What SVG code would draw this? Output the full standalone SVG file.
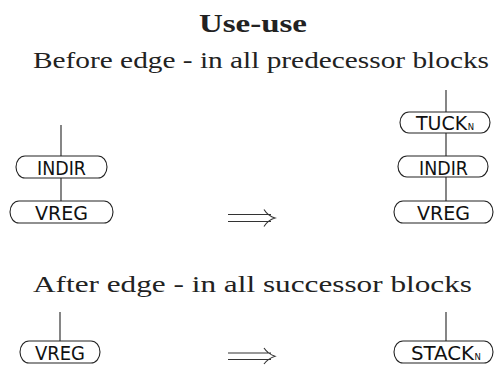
<svg xmlns="http://www.w3.org/2000/svg" width="494" height="365" viewBox="0 0 494 365">
<style>
.node{fill:#fff;stroke:#222;stroke-width:1.1}
.lbl{font-family:"DejaVu Sans",sans-serif;font-size:19px;fill:#111}
.sub{font-size:8.5px}
.edge{stroke:#222;stroke-width:1.1;fill:none}
.ttl{font-family:"Liberation Serif",serif;fill:#222;text-anchor:middle}
.imp{stroke:#333;stroke-width:1.1;fill:none}
</style>
<rect width="494" height="365" fill="#fff"/>
<text class="ttl" x="253" y="32" font-size="26" font-weight="bold" textLength="108" lengthAdjust="spacingAndGlyphs">Use-use</text>
<text class="ttl" x="261" y="68" font-size="23" textLength="456" lengthAdjust="spacingAndGlyphs">Before edge - in all predecessor blocks</text>
<text class="ttl" x="252.5" y="292" font-size="23" textLength="439" lengthAdjust="spacingAndGlyphs">After edge - in all successor blocks</text>
<g id="connectors">
<line class="edge" x1="61" y1="125" x2="61" y2="156"/>
<line class="edge" x1="61" y1="178" x2="61" y2="201"/>
<line class="edge" x1="446" y1="90" x2="446" y2="112"/>
<line class="edge" x1="446" y1="133" x2="446" y2="156"/>
<line class="edge" x1="446" y1="177" x2="446" y2="201"/>
<line class="edge" x1="60" y1="312" x2="60" y2="341"/>
<line class="edge" x1="446" y1="312" x2="446" y2="341"/>
</g>
<g id="implies1">
<path class="imp" d="M228 214.5H271M228 221.5H271M264 209.5Q268 216 275 218Q268 220 264 226.5"/>
</g>
<g id="implies2">
<path class="imp" d="M228 353H271M228 359.5H271M264 348Q268 354 275 356.2Q268 358.5 264 364"/>
</g>
<g id="l_indir"><rect class="node" x="16" y="156" width="91" height="22" rx="9" ry="11"/><text class="lbl" x="37" y="175" textLength="49" lengthAdjust="spacingAndGlyphs">INDIR</text></g>
<g id="l_vreg"><rect class="node" x="10" y="201" width="103" height="22" rx="9" ry="11"/><text class="lbl" x="35" y="220" textLength="53" lengthAdjust="spacingAndGlyphs">VREG</text></g>
<g id="r_tuck"><rect class="node" x="400" y="112" width="90" height="21" rx="9" ry="10.5"/><text class="lbl" x="416" y="130" font-size="17.5">TUCK<tspan class="sub" dx="0.5">N</tspan></text></g>
<g id="r_indir"><rect class="node" x="398" y="156" width="90" height="21" rx="9" ry="10.5"/><text class="lbl" x="419" y="174.5" textLength="49" lengthAdjust="spacingAndGlyphs">INDIR</text></g>
<g id="r_vreg"><rect class="node" x="394" y="201" width="99" height="22" rx="9" ry="11"/><text class="lbl" x="417" y="220" textLength="53" lengthAdjust="spacingAndGlyphs">VREG</text></g>
<g id="b_vreg"><rect class="node" x="20" y="341" width="80" height="22" rx="9" ry="11"/><text class="lbl" x="35" y="360" textLength="50" lengthAdjust="spacingAndGlyphs">VREG</text></g>
<g id="b_stack"><rect class="node" x="394" y="341" width="99" height="22" rx="9" ry="11"/><text class="lbl" x="411" y="360"><tspan textLength="63" lengthAdjust="spacingAndGlyphs">STACK</tspan><tspan class="sub" dx="0.5">N</tspan></text></g>
</svg>
